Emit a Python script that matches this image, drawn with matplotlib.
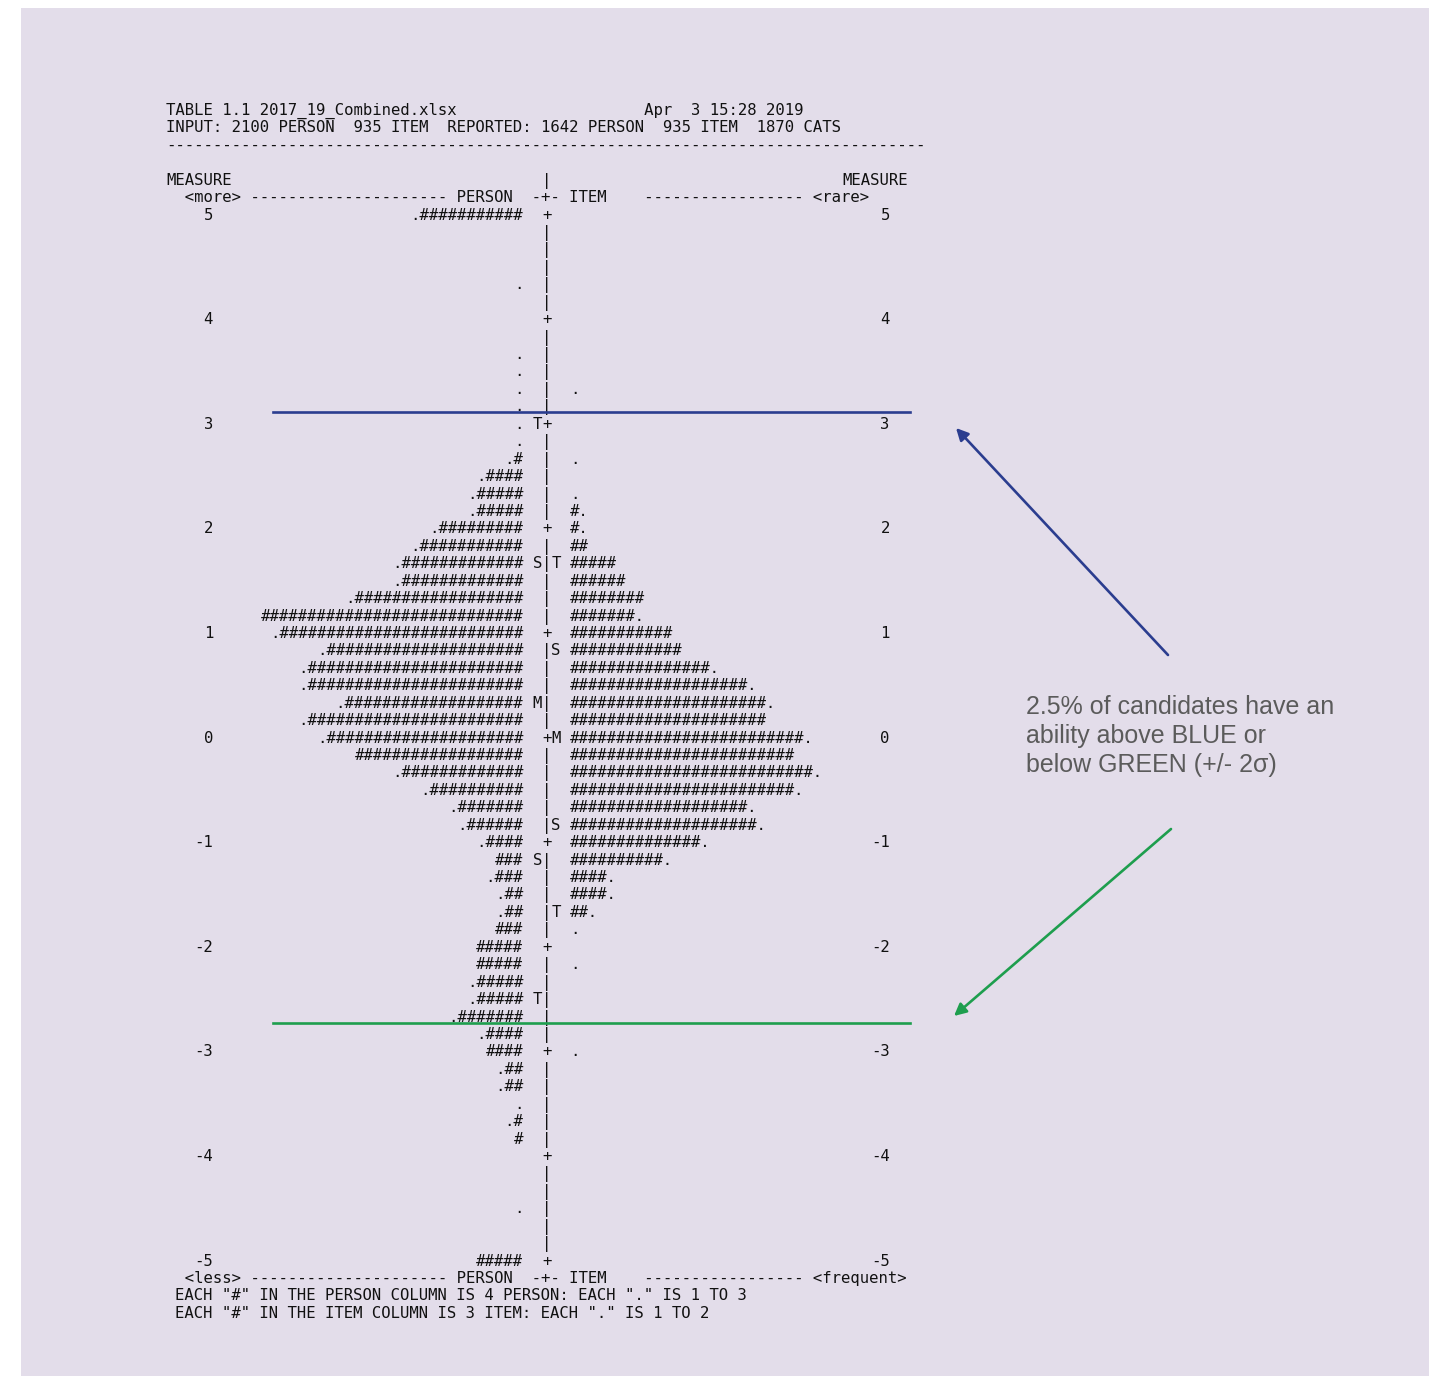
import numpy as np
import matplotlib
matplotlib.use("Agg")
import matplotlib.pyplot as plt
from matplotlib.patches import Rectangle

# ---- Wright map data (Winsteps TABLE 1.1), one row per 1/6 logit, from +5 down to -5 ----
row_levels = np.linspace(5, -5, 61)

# number of "#" in the PERSON column on each row (each "#" = 4 persons)
person_hash = [11, 0, 0, 0, 0, 0,
               0, 0, 0, 0, 0, 0,
               0, 0, 1, 4, 5, 5,
               9, 11, 13, 13, 18, 28,
               26, 21, 23, 23, 19, 23,
               21, 18, 13, 10, 7, 6,
               4, 3, 3, 2, 2, 3,
               5, 5, 5, 5, 7, 4,
               4, 2, 2, 0, 1, 1,
               0, 0, 0, 0, 0, 0,
               5]
# leading "." in the PERSON column (1 to 3 persons)
person_dot = [1, 0, 0, 0, 1, 0,
              0, 0, 1, 1, 1, 1,
              1, 1, 1, 1, 1, 1,
              1, 1, 1, 1, 1, 0,
              1, 1, 1, 1, 1, 1,
              1, 0, 1, 1, 1, 1,
              1, 0, 1, 1, 1, 0,
              0, 0, 1, 1, 1, 1,
              0, 1, 1, 1, 1, 0,
              0, 0, 0, 1, 0, 0,
              0]
# number of "#" in the ITEM column on each row (each "#" = 3 items)
item_hash = [0, 0, 0, 0, 0, 0,
             0, 0, 0, 0, 0, 0,
             0, 0, 0, 0, 0, 1,
             1, 2, 5, 6, 8, 7,
             11, 12, 15, 19, 21, 21,
             25, 24, 26, 24, 19, 20,
             14, 10, 4, 4, 2, 0,
             0, 0, 0, 0, 0, 0,
             0, 0, 0, 0, 0, 0,
             0, 0, 0, 0, 0, 0,
             0]
# trailing "." in the ITEM column (1 to 2 items)
item_dot = [0, 0, 0, 0, 0, 0,
            0, 0, 0, 0, 1, 0,
            0, 0, 1, 0, 1, 1,
            1, 0, 0, 0, 0, 1,
            0, 0, 1, 1, 1, 0,
            1, 0, 1, 1, 1, 1,
            1, 1, 1, 1, 1, 1,
            0, 1, 0, 0, 0, 0,
            1, 0, 0, 0, 0, 0,
            0, 0, 0, 0, 0, 0,
            0]

# M = mean, S = one S.D., T = two S.D. (measure of the row where each is printed)
person_markers = [(3.0, "T"), (1.667, "S"), (0.333, "M"), (-1.167, "S"), (-2.5, "T")]
item_markers = [(1.667, "T"), (0.833, "S"), (0.0, "M"), (-0.833, "S"), (-1.667, "T")]

measure_ticks = [5, 4, 3, 2, 1, 0, -1, -2, -3, -4, -5]

# +/- 2 sigma cut lines for candidate ability
upper_cut = 3.11
lower_cut = -2.73

header_lines = [
    "TABLE 1.1 2017_19_Combined.xlsx" + " " * 20 + "Apr  3 15:28 2019",
    "INPUT: 2100 PERSON  935 ITEM  REPORTED: 1642 PERSON  935 ITEM  1870 CATS",
]
footer_lines = [
    'EACH "#" IN THE PERSON COLUMN IS 4 PERSON: EACH "." IS 1 TO 3',
    'EACH "#" IN THE ITEM COLUMN IS 3 ITEM: EACH "." IS 1 TO 2',
]
note = ["2.5% of candidates have an", "ability above BLUE or", "below GREEN (+/- 2\u03c3)"]

# ---- layout: x in character columns, y in logits ----
W, H = 1439, 1376
CW = 9.4             # pixels per character column
X0, Y5 = 166, 214    # pixel of column 0 and of the +5 logit row
PPL = 104.6          # pixels per logit


def px(xp, yp):
    return (xp - X0) / CW, 5 - (yp - Y5) / PPL


fig = plt.figure(figsize=(W / 100, H / 100), dpi=100, facecolor="white")
ax = fig.add_axes([0, 0, 1, 1])
ax.set_xlim(px(0, 0)[0], px(W, 0)[0])
ax.set_ylim(px(0, H)[1], px(0, 0)[1])
ax.axis("off")

# lavender panel
(px0, py0), (px1, py1) = px(21, H), px(1429, 8)
ax.add_patch(Rectangle((px0, py0), px1 - px0, py1 - py0, facecolor="#E3DDEA",
                       edgecolor="none", zorder=0))

mono = dict(family="DejaVu Sans Mono", fontsize=CW / 0.6021 * 0.72, color="#111111")
BASE = 5.6 / PPL     # baseline drop below row centre
ROW = 1 / 6


def put(col, level, s, ha="left", **kw):
    ax.text(col, level - BASE, s, ha=ha, va="baseline", zorder=3, **mono, **kw)


# header block
put(0, 5 + 6 * ROW, header_lines[0])
put(0, 5 + 5 * ROW, header_lines[1])
put(0, 5 + 4 * ROW, "-" * 81)
put(0, 5 + 2 * ROW, "MEASURE")
put(40, 5 + 2 * ROW, "|")
put(72, 5 + 2 * ROW, "MEASURE")
put(0, 5 + ROW, "  <more> " + "-" * 21 + " PERSON  -+- ITEM    " + "-" * 17 + " <rare>")

# map rows
pmark = {int(round((5 - m) * 6)): c for m, c in person_markers}
imark = {int(round((5 - m) * 6)): c for m, c in item_markers}
for i, lvl in enumerate(row_levels):
    on_tick = abs(lvl - round(lvl)) < 1e-6
    ps = ("." if person_dot[i] else "") + "#" * person_hash[i]
    if ps:
        put(38, lvl, ps, ha="right")
    if i in pmark:
        put(39, lvl, pmark[i])
    put(40, lvl, "+" if on_tick else "|")
    if i in imark:
        put(41, lvl, imark[i])
    its = "#" * item_hash[i] + ("." if item_dot[i] else "")
    if its:
        put(43, lvl, its)

for t in measure_ticks:
    put(5, t, str(t), ha="right")
    put(77, t, str(t), ha="right")

# footer block
put(0, -5 - ROW, "  <less> " + "-" * 21 + " PERSON  -+- ITEM    " + "-" * 17 + " <frequent>")
put(1, -5 - 2 * ROW, footer_lines[0])
put(1, -5 - 3 * ROW, footer_lines[1])

# +/- 2 sigma lines
blue, green = "#2B3D8F", "#1E9E4E"
xl, xr = px(273, 0)[0], px(910, 0)[0]
ax.plot([xl, xr], [upper_cut, upper_cut], color=blue, lw=1.9, zorder=5)
ax.plot([xl, xr], [lower_cut, lower_cut], color=green, lw=1.9, zorder=5)

# annotation arrows
ax.annotate("", xy=px(956, 428), xytext=px(1168, 655),
            arrowprops=dict(arrowstyle="-|>", color=blue, lw=1.9, mutation_scale=18,
                            shrinkA=0, shrinkB=0))
ax.annotate("", xy=px(954, 1016), xytext=px(1171, 829),
            arrowprops=dict(arrowstyle="-|>", color=green, lw=1.9, mutation_scale=18,
                            shrinkA=0, shrinkB=0))

for k, line in enumerate(note):
    x, y = px(1026, 714 + 29 * k)
    ax.text(x, y, line, ha="left", va="baseline", family="Liberation Sans",
            fontsize=18, color="#5B5B5B")

fig.savefig("out.png", dpi=100, facecolor=fig.get_facecolor())
